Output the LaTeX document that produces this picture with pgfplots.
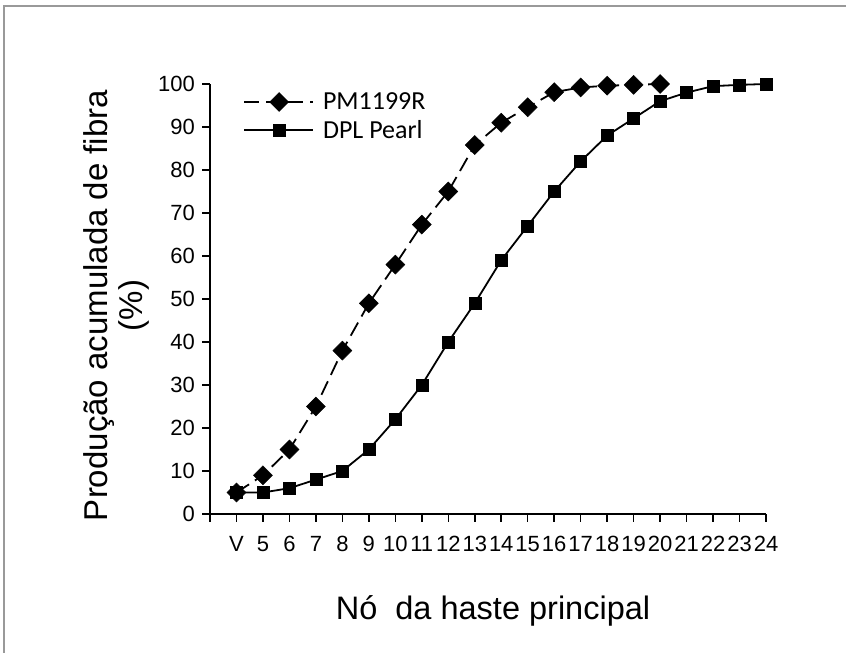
\documentclass[border=0pt]{standalone}
\usepackage{fontspec}
\setmainfont{Liberation Sans}
\newfontfamily\legfont{Carlito}
\usepackage{pgfplots}
\pgfplotsset{compat=1.18}
\begin{document}
\begin{tikzpicture}
\useasboundingbox (0,0) rectangle (846pt,653pt);
\draw[gray!80, line width=2pt] (3.5pt,-5pt) -- (3.5pt,647pt) -- (851pt,647pt);
\begin{axis}[
  at={(210pt,139pt)}, anchor=south west,
  scale only axis, width=556pt, height=430pt,
  xmin=-1, xmax=20, ymin=0, ymax=100,
  axis lines*=left,
  axis line style={-, line width=1.5pt, black},
  tick align=outside, major tick length=8pt,
  tick style={line width=1.5pt, black},
  xtick={-1,0,...,20},
  xticklabels={{},V,5,6,7,8,9,10,11,12,13,14,15,16,17,18,19,20,21,22,23,24},
  ytick={0,10,...,100},
  /pgf/number format/assume math mode=true,
  tick label style={font=\fontsize{22}{26}\selectfont},
  yticklabel style={inner sep=0pt, xshift=-7pt},
  xticklabel style={inner sep=0pt, anchor=base, yshift=-29pt},
  xlabel={Nó\ \ da haste principal},
  xlabel style={at={(axis description cs:0.509,-0.245)}, anchor=base, font=\fontsize{32.5}{38}\selectfont},
  ylabel={Produção acumulada de fibra\\(\%)},
  ylabel style={at={(axis description cs:-0.168,0.485)}, anchor=center, align=center, font=\fontsize{33}{35}\selectfont},
  legend cell align=left,
  legend style={draw=none, fill=none, at={(axis description cs:0.0594,0.925)}, anchor=west,
    font=\legfont\fontsize{26}{30}\selectfont, row sep=9pt, inner sep=0pt,
    nodes={inner sep=0pt}, column sep=9pt},
  legend image code/.code={\draw[mark repeat=2, mark phase=2] plot coordinates {(0pt,0pt) (35pt,0pt) (69pt,0pt)};},
]
\addplot[black, line width=1.8pt, dash pattern=on 15pt off 7pt, mark=square*, mark size=6.7pt,
  mark options={solid, rotate=45, line width=0.5pt}] coordinates {
  (0,5) (1,9) (2,15) (3,25) (4,38) (5,49) (6,58) (7,67.3) (8,75) (9,85.8)
  (10,91) (11,94.6) (12,98.1) (13,99.2) (14,99.6) (15,99.8) (16,100)
};
\addlegendentry{PM1199R}
\addplot[black, line width=1.8pt, mark=square*, mark size=6pt,
  mark options={solid, line width=0.5pt}] coordinates {
  (0,5) (1,5) (2,6) (3,8) (4,10) (5,15) (6,22) (7,30) (8,40) (9,49)
  (10,59) (11,67) (12,75) (13,82) (14,88) (15,92) (16,96) (17,98) (18,99.5) (19,99.8) (20,100)
};
\addlegendentry{DPL Pearl}
\end{axis}
\end{tikzpicture}
\end{document}
